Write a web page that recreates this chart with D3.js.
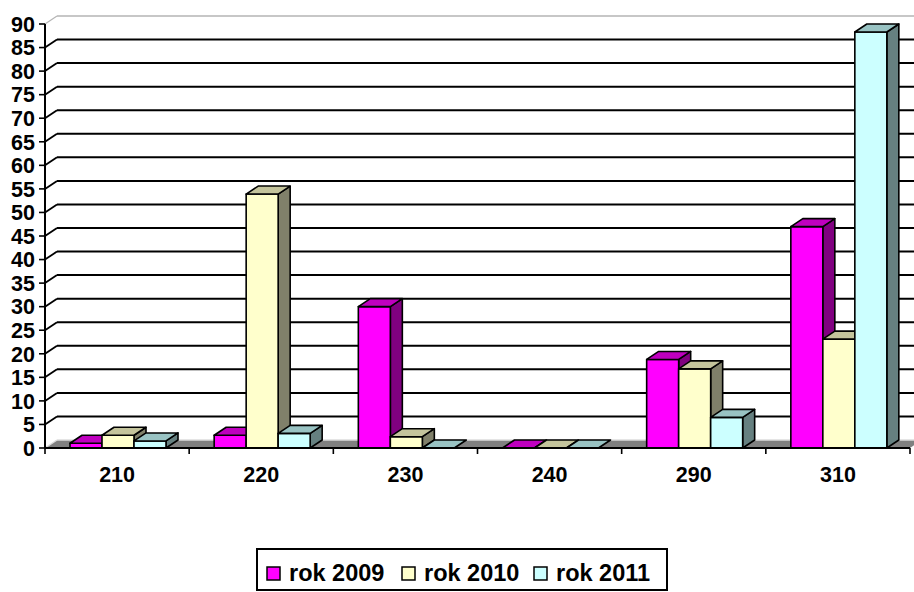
<!DOCTYPE html>
<html>
<head>
<meta charset="utf-8">
<script src="https://cdn.jsdelivr.net/npm/d3@7"></script>
<style>
  body { margin: 0; background: #fff; }
  svg { display: block; font-family: "Liberation Sans", Arial, sans-serif; font-weight: bold; }
</style>
</head>
<body>
<div id="chart"></div>
<script>
var categories = ["210", "220", "230", "240", "290", "310"];
var seriesNames = ["rok 2009", "rok 2010", "rok 2011"];
var rok2009 = [1, 2.7, 30, 0, 18.8, 47];
var rok2010 = [2.7, 53.9, 2.4, 0, 16.8, 23.1];
var rok2011 = [1.5, 3.1, 0, 0, 6.5, 88.3];
var yTicks = d3.range(0, 95, 5);

var seriesValues = [rok2009, rok2010, rok2011];
var front = ["#ff00ff", "#ffffcc", "#ccffff"];
var topCol = ["#bf00bf", "#c4c49c", "#99c3c3"];
var sideCol = ["#800080", "#80806a", "#668080"];

var width = 914, height = 592;
var dx = 12, dy = -8;   // depth offset of the 3d box

var svg = d3.select("#chart").append("svg")
    .attr("width", width)
    .attr("height", height);

var x = d3.scaleBand()
    .domain(categories)
    .range([45, 910]);

var xs = d3.scaleBand()
    .domain(seriesNames)
    .range([25, 121]);

var y = d3.scaleLinear()
    .domain([0, 90])
    .range([448, 24]);

// floor
var y0 = y(0);
svg.append("polygon")
    .attr("points", [[45, y0], [910, y0], [910 + dx, y0 + dy], [45 + dx, y0 + dy]].join(" "))
    .attr("fill", "#808080");
svg.append("line")
    .attr("x1", 45 + dx).attr("x2", width)
    .attr("y1", y0 + dy).attr("y2", y0 + dy)
    .attr("stroke", "#dcdcdc").attr("stroke-width", 1.5);

// back wall grid + left wall diagonals
var grid = svg.append("g");
yTicks.filter(function(d) { return d > 0; }).forEach(function(t) {
    var top = t === 90;
    grid.append("line")
        .attr("x1", 45 + dx).attr("x2", width)
        .attr("y1", y(t) + dy).attr("y2", y(t) + dy)
        .attr("stroke", top ? "#b4b4b4" : "#000")
        .attr("stroke-width", top ? 1.5 : 2);
    grid.append("line")
        .attr("x1", 45).attr("x2", 45 + dx)
        .attr("y1", y(t)).attr("y2", y(t) + dy)
        .attr("stroke", top ? "#b4b4b4" : "#000")
        .attr("stroke-width", top ? 1.2 : 1.8);
});
grid.append("line")
    .attr("x1", 45).attr("x2", 45 + dx)
    .attr("y1", y0).attr("y2", y0 + dy)
    .attr("stroke", "#dcdcdc").attr("stroke-width", 1.5);

// bars
var bars = svg.append("g")
    .attr("stroke", "#000")
    .attr("stroke-width", 1.6)
    .attr("stroke-linejoin", "round");

categories.forEach(function(c, i) {
    seriesNames.forEach(function(s, j) {
        var v = seriesValues[j][i];
        var bx = x(c) + xs(s), bw = xs.bandwidth();
        var yt = y(v);
        var b = bars.append("g");
        if (v > 0) {
            b.append("polygon")
                .attr("points", [[bx + bw, yt], [bx + bw + dx, yt + dy], [bx + bw + dx, y0 + dy], [bx + bw, y0]].join(" "))
                .attr("fill", sideCol[j]);
            b.append("rect")
                .attr("x", bx).attr("y", yt)
                .attr("width", bw).attr("height", y0 - yt)
                .attr("fill", front[j]);
        }
        b.append("polygon")
            .attr("points", [[bx, yt], [bx + bw, yt], [bx + bw + dx, yt + dy], [bx + dx, yt + dy]].join(" "))
            .attr("fill", topCol[j]);
    });
});

// y axis
var yAxis = svg.append("g");
yAxis.append("line")
    .attr("x1", 45).attr("x2", 45)
    .attr("y1", y(90)).attr("y2", y0)
    .attr("stroke", "#000").attr("stroke-width", 2);
yTicks.forEach(function(t) {
    yAxis.append("line")
        .attr("x1", 39).attr("x2", 45)
        .attr("y1", y(t)).attr("y2", y(t))
        .attr("stroke", "#000").attr("stroke-width", 1.6);
    yAxis.append("text")
        .attr("x", 35).attr("y", y(t))
        .attr("dy", "0.36em")
        .attr("text-anchor", "end")
        .attr("font-size", 21.5)
        .text(t);
});

// x axis
var xAxis = svg.append("g");
xAxis.append("line")
    .attr("x1", 45).attr("x2", 910)
    .attr("y1", y0).attr("y2", y0)
    .attr("stroke", "#000").attr("stroke-width", 2);
x.domain().concat([null]).forEach(function(c, i) {
    var tx = 45 + i * x.bandwidth();
    xAxis.append("line")
        .attr("x1", tx).attr("x2", tx)
        .attr("y1", y0).attr("y2", y0 + 6)
        .attr("stroke", "#000").attr("stroke-width", 1.6);
});
categories.forEach(function(c) {
    xAxis.append("text")
        .attr("x", x(c) + x.bandwidth() / 2)
        .attr("y", 482)
        .attr("text-anchor", "middle")
        .attr("font-size", 21.5)
        .text(c);
});

// legend
var legend = svg.append("g");
legend.append("rect")
    .attr("x", 257).attr("y", 549)
    .attr("width", 410).attr("height", 41)
    .attr("fill", "#fff")
    .attr("stroke", "#000").attr("stroke-width", 2);
var legX = [267, 402, 534];
seriesNames.forEach(function(s, j) {
    legend.append("rect")
        .attr("x", legX[j]).attr("y", 567)
        .attr("width", 13).attr("height", 13)
        .attr("fill", front[j])
        .attr("stroke", "#000").attr("stroke-width", 1.5);
    legend.append("text")
        .attr("x", legX[j] + 22).attr("y", 581)
        .attr("font-size", 23.5)
        .text(s);
});
</script>
</body>
</html>
